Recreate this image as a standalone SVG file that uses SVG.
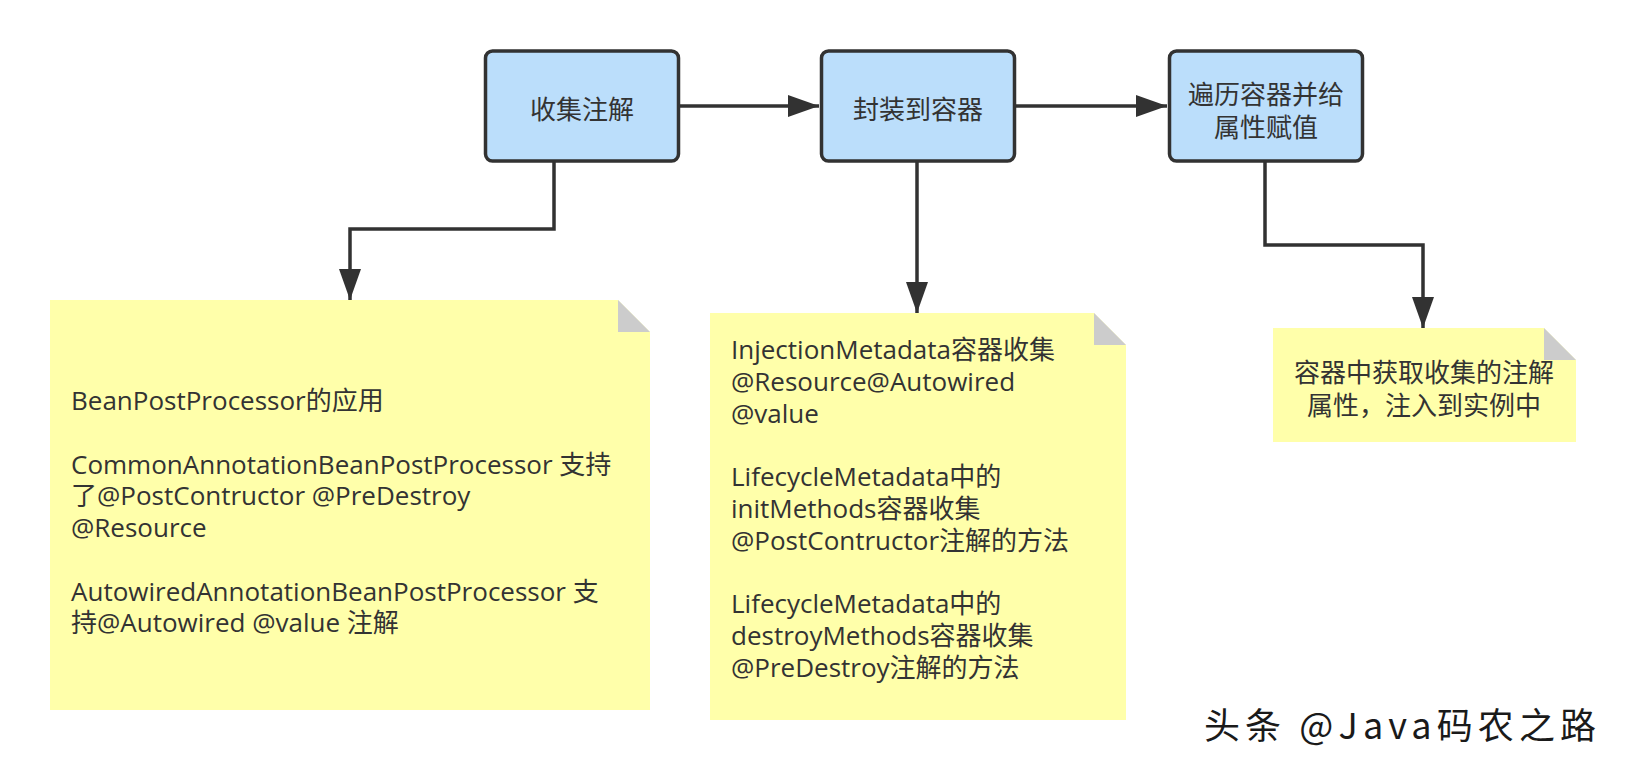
<svg xmlns="http://www.w3.org/2000/svg" width="1625" height="770" viewBox="0 0 1625 770">
<defs>
<style>
.box{fill:#bbdefb;stroke:#323232;stroke-width:3.5}
.note{fill:#ffffaa}
.fold{fill:#cccccc}
.t{font-family:"Open Sans","Noto Sans CJK SC",sans-serif;font-size:26px;fill:#333333}
.c{text-anchor:middle}
.edge{fill:none;stroke:#323232;stroke-width:3.5}
</style>
<marker id="arr" markerUnits="userSpaceOnUse" markerWidth="32" markerHeight="22" refX="31" refY="11" orient="auto">
<path d="M0,0 L31,11 L0,22 Z" fill="#323232"/>
</marker>
</defs>
<rect width="1625" height="770" fill="#ffffff"/>

<g id="connectors">
<path class="edge" d="M680,106 H819" marker-end="url(#arr)"/>
<path class="edge" d="M1016,106 H1167" marker-end="url(#arr)"/>
<path class="edge" d="M554,162 V229 H350 V300" marker-end="url(#arr)"/>
<path class="edge" d="M917,162 V313" marker-end="url(#arr)"/>
<path class="edge" d="M1265,162 V245 H1423 V328" marker-end="url(#arr)"/>
</g>

<g id="node-collect">
<rect class="box" x="485.5" y="51" width="193" height="110" rx="7"/>
<text class="t c" x="582" y="119">收集注解</text>
</g>
<g id="node-wrap">
<rect class="box" x="821.5" y="51" width="193" height="110" rx="7"/>
<text class="t c" x="918" y="119">封装到容器</text>
</g>
<g id="node-iterate">
<rect class="box" x="1169.5" y="51" width="193" height="110" rx="7"/>
<text class="t c" x="1266" y="104">遍历容器并给</text>
<text class="t c" x="1266" y="137">属性赋值</text>
</g>

<g id="note-bpp">
<polygon class="note" points="50,300 618,300 650,332 650,710 50,710"/>
<polygon class="fold" points="618,300 650,332 618,332"/>
<text class="t" x="71" y="410">BeanPostProcessor的应用</text>
<text class="t" x="71" y="473.5">CommonAnnotationBeanPostProcessor 支持</text>
<text class="t" x="71" y="505.25">了@PostContructor @PreDestroy</text>
<text class="t" x="71" y="537">@Resource</text>
<text class="t" x="71" y="600.5">AutowiredAnnotationBeanPostProcessor 支</text>
<text class="t" x="71" y="632.25">持@Autowired @value 注解</text>
</g>

<g id="note-metadata">
<polygon class="note" points="710,313 1094,313 1126,345 1126,720 710,720"/>
<polygon class="fold" points="1094,313 1126,345 1094,345"/>
<text class="t" x="731" y="359">InjectionMetadata容器收集</text>
<text class="t" x="731" y="390.75">@Resource@Autowired</text>
<text class="t" x="731" y="422.5">@value</text>
<text class="t" x="731" y="486">LifecycleMetadata中的</text>
<text class="t" x="731" y="517.75">initMethods容器收集</text>
<text class="t" x="731" y="549.5">@PostContructor注解的方法</text>
<text class="t" x="731" y="613">LifecycleMetadata中的</text>
<text class="t" x="731" y="644.75">destroyMethods容器收集</text>
<text class="t" x="731" y="676.5">@PreDestroy注解的方法</text>
</g>

<g id="note-inject">
<polygon class="note" points="1273,328 1544,328 1576,360 1576,442 1273,442"/>
<polygon class="fold" points="1544,328 1576,360 1544,360"/>
<text class="t c" x="1424" y="382">容器中获取收集的注解</text>
<text class="t c" x="1424" y="415">属性，注入到实例中</text>
</g>

<g id="watermark">
<text x="1206" y="741" font-family="'Noto Sans CJK SC',sans-serif" font-size="36" fill="#ffffff" textLength="392" lengthAdjust="spacing">头条 @Java码农之路</text>
<text x="1204" y="739" font-family="'Noto Sans CJK SC',sans-serif" font-size="36" fill="#1a1a1a" textLength="392" lengthAdjust="spacing">头条 @Java码农之路</text>
</g>
</svg>
